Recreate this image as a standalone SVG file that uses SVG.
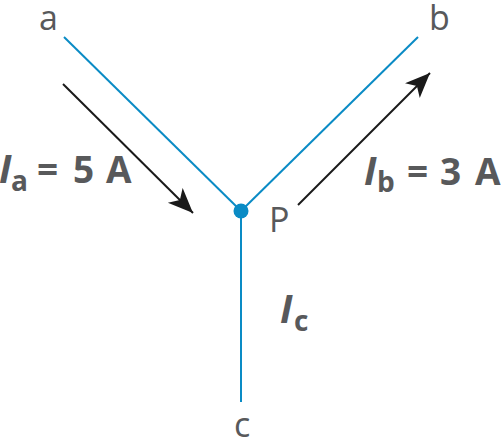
<svg xmlns="http://www.w3.org/2000/svg" width="504" height="439" viewBox="0 0 504 439">
<style>
.wire{stroke:#0a8bc5;stroke-width:2;fill:none}
.arr{stroke:#1a1a1a;stroke-width:2;fill:none}
.lbl{font-family:"Open Sans","Liberation Sans",sans-serif;fill:#58595b;font-size:34px}
.cur{font-family:"Open Sans","Liberation Sans",sans-serif;fill:#58595b;font-weight:bold;font-size:37px}
.I{font-style:italic;font-size:39px}
.sub{font-size:28px}
</style>
<defs>
<marker id="ah" markerUnits="userSpaceOnUse" markerWidth="30" markerHeight="24" refX="25" refY="10.5" orient="auto" viewBox="0 0 30 24">
<path d="M25,10.5 L0,0 L6.5,10.5 L0,21 Z" fill="#1a1a1a"/>
</marker>
</defs>
<g id="connectors">
<line class="wire" x1="64" y1="37" x2="241" y2="211"/>
<line class="wire" x1="418" y1="37" x2="241" y2="211"/>
<line class="wire" x1="241" y1="211" x2="241" y2="402"/>
<line class="arr" x1="63" y1="84" x2="193" y2="213" marker-end="url(#ah)"/>
<line class="arr" x1="298" y1="205" x2="430" y2="73" marker-end="url(#ah)"/>
</g>
<g id="node-P">
<circle cx="241" cy="211" r="7.5" fill="#0a8bc5"/>
<text class="lbl" x="269" y="232">P</text>
</g>
<g id="node-a"><text class="lbl" x="39" y="30">a</text></g>
<g id="node-b"><text class="lbl" x="429" y="30">b</text></g>
<g id="node-c"><text class="lbl" x="234" y="437">c</text></g>
<g id="label-Ia">
<text class="cur"><tspan class="I" x="-1" y="183">I</tspan><tspan class="sub" x="11" y="191">a</tspan><tspan x="37" y="183">=</tspan><tspan x="73" y="183">5</tspan><tspan x="106" y="183">A</tspan></text>
</g>
<g id="label-Ib">
<text class="cur"><tspan class="I" x="364" y="185">I</tspan><tspan class="sub" x="377" y="192">b</tspan><tspan x="407" y="185">=</tspan><tspan x="440" y="185">3</tspan><tspan x="475" y="185">A</tspan></text>
</g>
<g id="label-Ic">
<text class="cur"><tspan class="I" x="280" y="323">I</tspan><tspan class="sub" x="294" y="331">c</tspan></text>
</g>
</svg>
